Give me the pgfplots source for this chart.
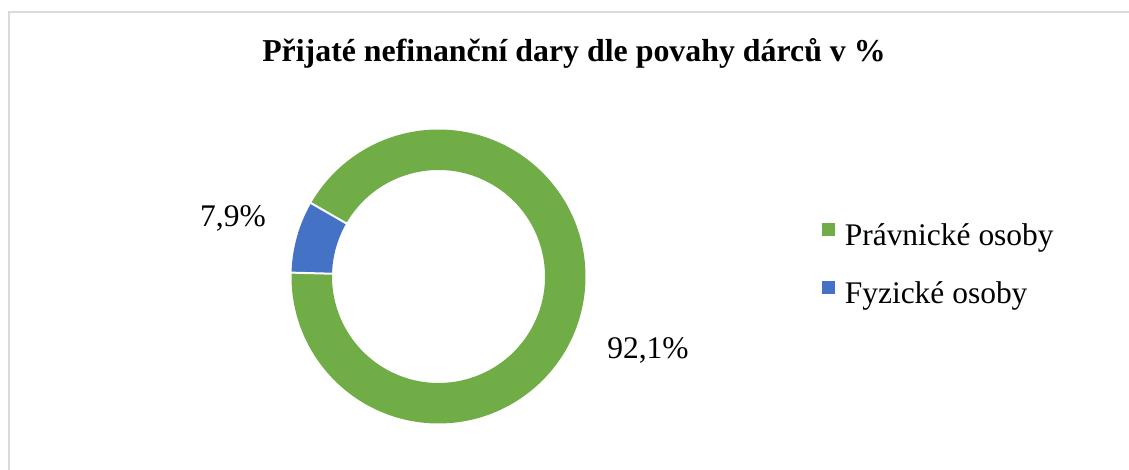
\documentclass[border=0pt]{standalone}
\usepackage{fontspec}
\setmainfont{Liberation Serif}
\usepackage{pgfplots}
\usepackage{pgfplotstable}
\pgfplotsset{compat=1.18}
\definecolor{pgreen}{HTML}{70AD47}
\definecolor{pblue}{HTML}{4472C4}
\definecolor{frame}{HTML}{D9D9D9}

\pgfplotstableread{
label value
Pravnicke 92.1
Fyzicke 7.9
}\donutdata

\pgfplotstablegetelem{0}{value}\of\donutdata
\let\valA\pgfplotsretval
\pgfplotstablegetelem{1}{value}\of\donutdata
\let\valB\pgfplotsretval

% geometry (axis units = pixels of the reference)
\def\cx{438.5}
\def\cy{193.5}
\def\Ro{110.25pt}
\def\Ri{79.875pt}
\pgfmathsetmacro{\aStart}{178.5}
\pgfmathsetmacro{\aMid}{\aStart+\valA*3.6}
\pgfmathsetmacro{\aEnd}{\aStart+360}

\begin{document}
\begin{tikzpicture}
\begin{axis}[
  x=0.75pt, y=0.75pt,
  xmin=0, xmax=1129, ymin=0, ymax=470,
  hide axis, clip=false,
  legend cell align=left,
  legend style={
    at={(axis cs:818,203.5)}, anchor=west,
    draw=none, fill=none,
    font=\fontsize{23.6}{28}\selectfont,
    row sep=21.5pt,
    nodes={inner sep=0pt, text height=17pt, text depth=5pt},
    /tikz/every odd column/.append style={column sep=7.5pt},
  },
]
\coordinate (SW) at (axis cs:0,0);
\coordinate (NE) at (axis cs:1129,470);
% frame (top and left edges visible)
\draw[frame, line width=1.2pt] (axis cs:9.3,0) -- (axis cs:9.3,457.7) -- (axis cs:1129,457.7);

% sectors
\fill[pgreen, shift={(axis cs:\cx,\cy)}] (\aStart:\Ro) arc[start angle=\aStart, end angle=\aMid, radius=\Ro]
   -- (\aMid:\Ri) arc[start angle=\aMid, end angle=\aStart, radius=\Ri] -- cycle;
\fill[pblue, shift={(axis cs:\cx,\cy)}] (\aMid:\Ro) arc[start angle=\aMid, end angle=\aEnd, radius=\Ro]
   -- (\aEnd:\Ri) arc[start angle=\aEnd, end angle=\aMid, radius=\Ri] -- cycle;
\draw[white, line width=1.5pt, shift={(axis cs:\cx,\cy)}] (\aStart:\Ri-1pt) -- (\aStart:\Ro+1pt);
\draw[white, line width=1.5pt, shift={(axis cs:\cx,\cy)}] (\aMid:\Ri-1pt) -- (\aMid:\Ro+1pt);

\addlegendimage{legend image code/.code={\fill[pgreen] (0pt,1.5pt) rectangle (9pt,10.5pt);}}
\addlegendentry{Právnické osoby}
\addlegendimage{legend image code/.code={\fill[pblue] (0pt,1.5pt) rectangle (9pt,10.5pt);}}
\addlegendentry{Fyzické osoby}

% title and data labels
\node[anchor=base, font=\fontsize{23.9}{28}\selectfont\bfseries] at (axis cs:574,408) {Přijaté nefinanční dary dle povahy dárců v \%};
\node[anchor=base, font=\fontsize{23.6}{28}\selectfont] at (axis cs:233,243.5) {7,9\%};
\node[anchor=base, font=\fontsize{23.6}{28}\selectfont] at (axis cs:648,111) {92,1\%};
\end{axis}
\pgfresetboundingbox
\path[use as bounding box] (SW) rectangle (NE);
\end{tikzpicture}
\end{document}
